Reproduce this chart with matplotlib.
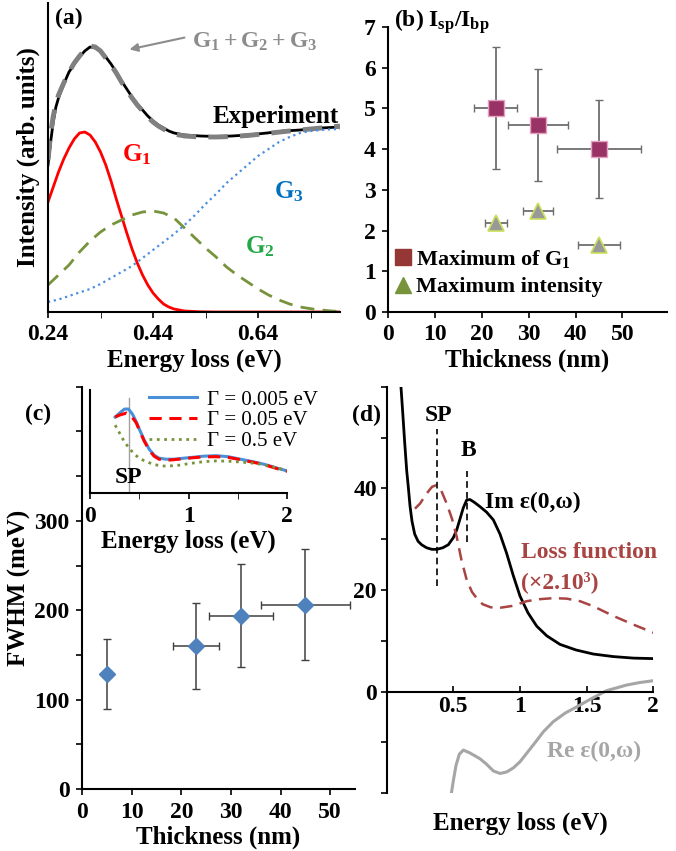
import matplotlib
matplotlib.use('Agg')
import matplotlib.pyplot as plt
from matplotlib.ticker import FixedLocator
from matplotlib.lines import Line2D

plt.rcParams['font.family'] = ['Liberation Serif', 'DejaVu Serif']
plt.rcParams['font.weight'] = 'bold'
plt.rcParams['axes.labelweight'] = 'bold'
plt.rcParams['font.size'] = 17
plt.rcParams['mathtext.fontset'] = 'custom'
plt.rcParams['mathtext.rm'] = 'Liberation Serif:bold'
plt.rcParams['mathtext.it'] = 'Liberation Serif:bold'
plt.rcParams['mathtext.bf'] = 'Liberation Serif:bold'
plt.rcParams['axes.linewidth'] = 1.5
plt.rcParams['xtick.major.width'] = 1.2
plt.rcParams['ytick.major.width'] = 1.2

# ---- (a) EELS spectrum fit ----
exp_e = [0.24, 0.245, 0.25, 0.255, 0.26, 0.27, 0.28, 0.29, 0.30, 0.31, 0.32, 0.33, 0.34, 0.35,
         0.36, 0.37, 0.38, 0.39, 0.40, 0.41, 0.42, 0.43, 0.44, 0.45, 0.46, 0.47, 0.48, 0.50,
         0.53, 0.56, 0.59, 0.62, 0.657, 0.69, 0.72, 0.76, 0.796]
exp_i = [147, 170, 190, 205, 214, 228, 240, 248, 255, 261, 265, 264, 261, 255,
         248, 240, 231, 223, 215, 208, 202, 196, 191, 187, 184, 181, 179, 177,
         176, 175.5, 176, 177, 179, 181, 182, 184, 185]
fit_e = [0.24, 0.245, 0.25, 0.255, 0.26, 0.27, 0.28, 0.29, 0.30, 0.31, 0.32, 0.33, 0.34, 0.35,
         0.36, 0.37, 0.38, 0.39, 0.40, 0.41, 0.42, 0.43, 0.44, 0.45, 0.46, 0.47, 0.48, 0.50,
         0.53, 0.56, 0.59, 0.62, 0.657, 0.69, 0.72, 0.76, 0.796]
fit_i = [152, 178, 196, 208, 217, 229, 240, 249, 256, 262, 266, 265, 261, 254,
         247, 239, 230, 222, 214, 207, 201, 195, 190, 186, 183, 180, 178, 176,
         175, 175, 175.5, 176.5, 178.5, 180.5, 182, 184, 186]
g1_e = [0.24, 0.25, 0.26, 0.27, 0.28, 0.29, 0.30, 0.31, 0.32, 0.33, 0.34, 0.35, 0.36, 0.37,
        0.38, 0.39, 0.40, 0.41, 0.42, 0.43, 0.44, 0.45, 0.46, 0.47, 0.48, 0.50, 0.53, 0.56, 0.796]
g1_i = [110, 125, 140, 153, 164, 173, 179, 180, 177, 170, 160, 147, 131, 113,
        96, 79, 63, 49, 37, 27, 19, 13, 8, 5, 3, 1, 0.2, 0, 0]
g2_e = [0.24, 0.26, 0.28, 0.30, 0.32, 0.34, 0.36, 0.38, 0.40, 0.42, 0.44, 0.46, 0.48, 0.50,
        0.52, 0.54, 0.56, 0.58, 0.60, 0.62, 0.64, 0.66, 0.68, 0.70, 0.72, 0.75, 0.78, 0.796]
g2_i = [27, 37, 47, 60, 71, 80, 87, 92, 97, 100, 101, 99, 94, 84,
        74, 64, 55, 45, 37, 30, 23, 17, 12, 8, 5, 2.5, 1, 0.5]
g3_e = [0.24, 0.26, 0.28, 0.30, 0.32, 0.34, 0.36, 0.38, 0.40, 0.42, 0.44, 0.46, 0.48, 0.50,
        0.52, 0.54, 0.56, 0.58, 0.60, 0.62, 0.64, 0.66, 0.68, 0.70, 0.72, 0.74, 0.77, 0.796]
g3_i = [10, 12.5, 16, 19.5, 23, 28, 34, 40, 46, 54, 62, 70, 78, 87,
        97, 108, 118, 129, 138, 147, 156, 163, 170, 175, 179, 181, 182.5, 183]

# ---- (b) I_sp/I_bp vs thickness ----
g1max_t = [23, 32, 45]
g1max_r = [5.0, 4.6, 4.0]
g1max_terr = [4.6, 6.4, 9.0]
g1max_rerr = [1.5, 1.38, 1.2]
imax_t = [23, 32, 45]
imax_r = [2.18, 2.49, 1.64]
imax_terr = [2.3, 3.2, 4.5]

# ---- (c) FWHM vs thickness ----
fw_t = [5, 23, 32, 45]
fw_v = [129, 160, 194, 206]
fw_terr = [0.8, 4.6, 6.4, 9.0]
fw_verr = [39, 48, 58, 62]
# inset spectra
ins_e1 = [0.255, 0.30, 0.35, 0.39, 0.43, 0.47, 0.50, 0.55, 0.60, 0.65, 0.70, 0.77,
          0.85, 0.95, 1.05, 1.15, 1.28, 1.40, 1.50, 1.60, 1.70, 1.80, 1.90, 2.0]
ins_g005 = [76, 80, 84, 84, 79, 71, 64, 53, 44, 38, 35, 34,
            34, 35, 36, 37, 37.5, 36.5, 34.5, 32.5, 30.5, 28, 25, 22.3]
ins_e2 = [0.255, 0.30, 0.37, 0.42, 0.47, 0.50, 0.55, 0.60, 0.65, 0.70, 0.77,
          0.85, 0.95, 1.05, 1.15, 1.28, 1.40, 1.50, 1.60, 1.70, 1.80, 1.90, 2.0]
ins_g05 = [76, 78, 80, 77, 70, 63, 52, 43, 37, 34, 33,
           33.5, 34.5, 35.5, 36.3, 36.5, 35.8, 34, 32, 30, 27.5, 24.5, 22]
ins_e3 = [0.255, 0.30, 0.35, 0.40, 0.45, 0.50, 0.55, 0.65, 0.77, 0.90, 1.01,
          1.15, 1.28, 1.40, 1.55, 1.69, 1.85, 2.0]
ins_g5 = [68, 60, 51, 44.7, 39, 35, 32.5, 28.5, 27, 28, 29.7,
          31.5, 32.3, 32, 31, 29.7, 26.5, 22.7]

# ---- (d) dielectric function ----
im_e = [0.107, 0.12, 0.135, 0.15, 0.162, 0.175, 0.19, 0.21, 0.235, 0.262, 0.30, 0.34, 0.375,
        0.42, 0.462, 0.50, 0.525, 0.55, 0.575, 0.60, 0.625, 0.66, 0.70, 0.75, 0.80, 0.85,
        0.90, 0.95, 1.0, 1.06, 1.125, 1.2, 1.3, 1.42, 1.55, 1.7, 1.85, 2.0]
im_v = [60, 55, 49, 43.5, 40.3, 36.5, 33.5, 31, 29.6, 28.9, 28.3, 28.0, 28.0,
        28.3, 28.9, 30.3, 31.8, 34, 36.2, 37.7, 37.8, 37.2, 36.4, 35.3, 33.8, 31,
        27.2, 22.8, 18.8, 15.5, 12.9, 11.0, 9.3, 8.2, 7.4, 6.9, 6.6, 6.5]
loss_e = [0.212, 0.25, 0.30, 0.34, 0.37, 0.41, 0.45, 0.49, 0.525, 0.56, 0.6, 0.64, 0.675,
          0.72, 0.78, 0.85, 0.95, 1.05, 1.15, 1.25, 1.35, 1.45, 1.55, 1.7, 1.85, 2.0]
loss_v = [36, 37, 39, 40.3, 40.6, 39.5, 37, 34, 30.5, 26, 22, 19.6, 18.4,
          17.2, 16.6, 16.5, 16.9, 17.8, 18.2, 18.4, 18.3, 17.8, 16.8, 14.9, 13.2, 11.6]
re_e = [0.487, 0.50, 0.52, 0.545, 0.575, 0.62, 0.66, 0.70, 0.75, 0.80, 0.85, 0.90, 0.95,
        1.0, 1.06, 1.12, 1.175, 1.25, 1.34, 1.425, 1.52, 1.65, 1.8, 1.9, 2.0]
re_v = [-19.7, -17.5, -14.5, -12.3, -11.5, -12.0, -12.6, -13.2, -14.3, -15.6, -16.1, -15.8, -15.0,
        -13.8, -11.8, -9.8, -7.9, -5.9, -4.2, -3.0, -1.6, 0.2, 1.3, 1.8, 2.15]

W, H = 676, 851
fig = plt.figure(figsize=(6.76, 8.51), dpi=100)


def box(l, t, r, b):
    return [l / W, 1 - b / H, (r - l) / W, (b - t) / H]


def plain(ax):
    ax.spines['top'].set_visible(False)
    ax.spines['right'].set_visible(False)
    ax.tick_params(direction='out', length=4, pad=5)


def bold_ticks(ax):
    for t in ax.get_xticklabels() + ax.get_yticklabels():
        t.set_fontweight('bold')
        t.set_fontsize(17)


# (a)
ax = fig.add_axes(box(48, 3, 340, 312))
plain(ax)
ax.plot(exp_e, exp_i, color='black', lw=2)
ax.plot(fit_e, fit_i, color='#808080', lw=3.5, dashes=(4, 2.5))
ax.plot(g1_e, g1_i, color='red', lw=2)
ax.plot(g2_e, g2_i, color='#77933C', lw=2, dashes=(5, 3))
ax.plot(g3_e, g3_i, color='#4A8FE0', lw=1.6, linestyle=':')
ax.set_xlim(0.24, 0.796)
ax.set_ylim(0, 309)
ax.set_xticks([0.24, 0.44, 0.64])
ax.set_xticklabels(['0.24', '0.44', '0.64'])
ax.xaxis.set_minor_locator(FixedLocator([0.34, 0.54, 0.74]))
ax.tick_params(which='minor', direction='out', length=4)
ax.set_yticks([])
ax.set_xlabel('Energy loss (eV)', fontsize=18, labelpad=2)
ax.set_ylabel('Intensity (arb. units)', fontsize=18, labelpad=6)
bold_ticks(ax)
ax.text(0.253, 294, '(a)', fontsize=17, va='center')
ax.text(0.515, 270, r'$G_1 + G_2 + G_3$', color='#8C8C8C', fontsize=17, va='center')
ax.annotate('', xy=(0.39, 262), xytext=(0.505, 275),
            arrowprops=dict(arrowstyle='-|>', color='#8C8C8C', lw=1.5, mutation_scale=12))
ax.text(0.553, 195, 'Experiment', fontsize=18, va='center')
ax.text(0.38, 157, r'$G_1$', color='red', fontsize=18, va='center')
ax.text(0.67, 120, r'$G_3$', color='#0070C0', fontsize=18, va='center')
ax.text(0.615, 65, r'$G_2$', color='#22A846', fontsize=18, va='center')

# (b)
ax = fig.add_axes(box(388, 27, 667, 312))
plain(ax)
ax.errorbar(g1max_t, g1max_r, xerr=g1max_terr, yerr=g1max_rerr, fmt='none',
            ecolor='#6E6E6E', elinewidth=1.3, capsize=3)
ax.errorbar(imax_t, imax_r, xerr=imax_terr, fmt='none',
            ecolor='#6E6E6E', elinewidth=1.3, capsize=3)
ax.plot(g1max_t, g1max_r, 's', ms=12, color='#993366', mec='#E6A0C0', mew=1)
ax.plot(imax_t, imax_r, '^', ms=11, color='#999999', mec='#C8E05A', mew=1.2)
ax.set_xlim(0, 59.5)
ax.set_ylim(0, 7)
ax.set_xticks([0, 10, 20, 30, 40, 50])
ax.set_yticks(range(8))
ax.set_xlabel('Thickness (nm)', fontsize=18, labelpad=2)
bold_ticks(ax)
ax.text(0.02, 1.02, r'(b) $I_{sp}/I_{bp}$', transform=ax.transAxes, fontsize=17, va='center')
hs = [Line2D([], [], ls='', marker='s', ms=11, color='#953735'),
      Line2D([], [], ls='', marker='^', ms=12, color='#77933C')]
ax.legend(hs, [r'Maximum of $G_1$', 'Maximum intensity'], loc='lower left',
          bbox_to_anchor=(-0.01, 0.02), frameon=False, handlelength=0.8,
          handletextpad=0.2, borderaxespad=0, labelspacing=0.3, fontsize=16)

# (c)
ax = fig.add_axes(box(82, 386.7, 355, 789))
plain(ax)
ax.errorbar(fw_t, fw_v, xerr=fw_terr, yerr=fw_verr, fmt='none',
            ecolor='#404040', elinewidth=1.1, capsize=3)
ax.plot(fw_t, fw_v, 'D', ms=8, color='#4F81BD')
ax.set_xlim(0, 55)
ax.set_ylim(0, 450)
ax.set_xticks([0, 10, 20, 30, 40, 50])
ax.set_yticks(range(0, 451, 50))
ax.set_yticklabels(['0', '', '100', '', '200', '', '300', '', '', ''])
ax.set_xlabel('Thickness (nm)', fontsize=18, labelpad=2)
ax.set_ylabel('FWHM (meV)', fontsize=18, labelpad=2)
bold_ticks(ax)
ax.text(-0.21, 0.93, '(c)', transform=ax.transAxes, fontsize=17, va='center')

ins = fig.add_axes(box(90, 390, 287.3, 493.3))
plain(ins)
ins.axvline(0.4, ymin=0.0, ymax=0.92, color='#A0A0A0', lw=1)
ins.plot(ins_e1, ins_g005, color='#4A90D9', lw=2.2, label='Γ = 0.005 eV')
ins.plot(ins_e2, ins_g05, color='red', lw=2.2, dashes=(4, 2.5), label='Γ = 0.05 eV')
ins.plot(ins_e3, ins_g5, color='#77933C', lw=2, linestyle=':', label='Γ = 0.5 eV')
ins.set_xlim(0, 2)
ins.set_ylim(0, 103)
ins.set_yticks([])
ins.set_xticks([0, 1, 2])
ins.xaxis.set_minor_locator(FixedLocator([0.5, 1.5]))
ins.tick_params(which='minor', direction='out', length=4)
ins.set_xlabel('Energy loss (eV)', fontsize=18, labelpad=2)
bold_ticks(ins)
ins.text(0.25, 16, 'SP', fontsize=17, va='center')
ins.legend(loc='upper right', bbox_to_anchor=(1.2, 1.08), frameon=False,
           prop={'weight': 'normal', 'size': 15}, handlelength=2.3,
           handletextpad=0.5, labelspacing=0.05, borderaxespad=0)

# (d)
ax = fig.add_axes(box(386.7, 386.7, 653.3, 793.3))
ax.spines['top'].set_visible(False)
ax.spines['right'].set_visible(False)
ax.spines['bottom'].set_position(('data', 0))
ax.tick_params(direction='out', length=4, pad=3)
ax.plot(im_e, im_v, color='black', lw=2)
ax.plot(loss_e, loss_v, color='#A84442', lw=1.8, dashes=(5, 3))
ax.plot(re_e, re_v, color='#A6A6A6', lw=2.2)
ax.vlines(0.375, 20.7, 51.7, color='black', lw=1.2, linestyles=(0, (4, 2.5)))
ax.vlines(0.605, 29.5, 43.5, color='black', lw=1.2, linestyles=(0, (4, 2.5)))
ax.set_xlim(0, 2)
ax.set_ylim(-20, 60)
ax.set_xticks([0.5, 1, 1.5, 2])
ax.set_xticklabels(['0.5', '1', '1.5', '2'])
ax.tick_params(axis='x', direction='in', length=4)
ax.set_yticks(range(-20, 61, 10))
ax.set_yticklabels(['', '', '0', '', '20', '', '40', '', ''])
ax.set_xlabel('Energy loss (eV)', fontsize=18, labelpad=68)
bold_ticks(ax)
ax.text(-0.13, 0.93, '(d)', transform=ax.transAxes, fontsize=17, va='center')
ax.text(0.285, 54.4, 'SP', fontsize=17, va='center')
ax.text(0.555, 47.5, 'B', fontsize=17, va='center')
ax.text(0.735, 37.3, 'Im ε(0,ω)', fontsize=17, va='center')
ax.text(1.01, 27.3, 'Loss function', color='#A84442', fontsize=17, va='center')
ax.text(1.01, 21.5, '(×2.10³)', color='#A84442', fontsize=17, va='center')
ax.text(1.2, -11.7, 'Re ε(0,ω)', color='#A6A6A6', fontsize=17, va='center')

fig.savefig('out.png', dpi=100)
